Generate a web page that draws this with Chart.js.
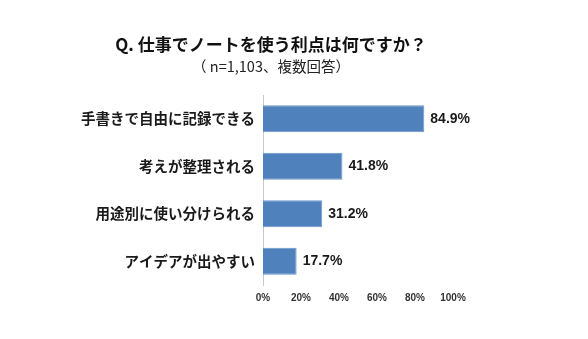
<!DOCTYPE html>
<html lang="ja">
<head>
<meta charset="UTF-8" />
<title>仕事でノートを使う利点</title>
<script src="https://cdn.jsdelivr.net/npm/chart.js"></script>
<style>
  html, body { margin: 0; padding: 0; background: #fff; }
  #wrap { width: 588px; height: 339px; position: relative; }
</style>
</head>
<body>
<div id="wrap"><canvas id="chart"></canvas></div>
<script>
// データ
const categories = ['手書きで自由に記録できる', '考えが整理される', '用途別に使い分けられる', 'アイデアが出やすい'];
const values = [84.9, 41.8, 31.2, 17.7];
const xTicks = [0, 20, 40, 60, 80, 100];

const titleText = 'Q. 仕事でノートを使う利点は何ですか？';
const subtitleText = '（ n=1,103、複数回答）';

const jpFont = "'Noto Sans CJK JP', 'Noto Sans', sans-serif";
const numFont = "'Liberation Sans', Arial, sans-serif";

// タイトルはグラフ全体の中心(x=271)に置く
const titles = {
  id: 'titles',
  afterDraw(chart) {
    const ctx = chart.ctx;
    ctx.save();
    ctx.textAlign = 'center';
    ctx.textBaseline = 'middle';
    ctx.fillStyle = '#111';
    ctx.font = 'bold 17px ' + jpFont;
    ctx.fillText(titleText, 271, 45);
    ctx.fillStyle = '#222';
    ctx.font = '14.5px ' + jpFont;
    ctx.fillText(subtitleText, 271, 66);
    ctx.restore();
  }
};

// 棒の右に値を表示
const valueLabels = {
  id: 'valueLabels',
  afterDatasetsDraw(chart) {
    const ctx = chart.ctx;
    const meta = chart.getDatasetMeta(0);
    ctx.save();
    ctx.font = 'bold 14px ' + numFont;
    ctx.fillStyle = '#1a1a1a';
    ctx.textBaseline = 'middle';
    ctx.textAlign = 'left';
    meta.data.forEach((bar, i) => {
      ctx.fillText(values[i].toFixed(1) + '%', bar.x + 6, bar.y);
    });
    ctx.restore();
  }
};

new Chart(document.getElementById('chart'), {
  type: 'bar',
  data: {
    labels: categories,
    datasets: [{
      data: values,
      backgroundColor: '#4f81bd',
      borderColor: '#6b97cc',
      borderWidth: 1,
      categoryPercentage: 1,
      barPercentage: 0.57
    }]
  },
  options: {
    indexAxis: 'y',
    responsive: true,
    maintainAspectRatio: false,
    animation: false,
    layout: { padding: { left: 50, right: 135, top: 95, bottom: 34 } },
    plugins: {
      legend: { display: false },
      tooltip: { enabled: false }
    },
    scales: {
      x: {
        min: 0,
        max: 100,
        afterBuildTicks: s => { s.ticks = xTicks.map(v => ({ value: v })); },
        afterFit: s => { s.height = 20; },
        grid: { display: false, drawTicks: false },
        border: { display: false },
        ticks: {
          padding: 7,
          color: '#333',
          font: { family: numFont, size: 10, weight: 'bold' },
          callback: v => v + '%'
        }
      },
      y: {
        afterFit: s => { s.width = 213; },
        grid: { display: false, drawTicks: false },
        border: { display: true, color: '#c8c8c8', width: 1 },
        ticks: {
          padding: 8,
          color: '#1a1a1a',
          font: { family: jpFont, size: 14.5, weight: 'bold' }
        }
      }
    }
  },
  plugins: [valueLabels, titles]
});
</script>
</body>
</html>
